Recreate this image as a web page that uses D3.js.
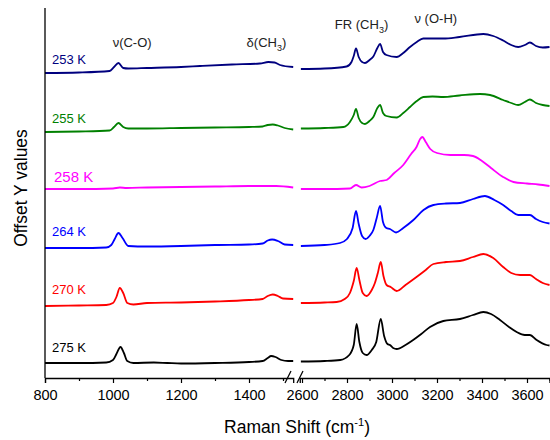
<!DOCTYPE html>
<html lang="en">

<head>
    <meta charset="UTF-8" />
    <style>
        body { margin: 0; background: #fff; }
        text { font-family: "Liberation Sans", Arial, sans-serif; }
    </style>
</head>

<body>
    <svg width="550" height="440"></svg>
    <script src="https://d3js.org/d3.v7.min.js"></script>
    <script>
        // temperatures, top to bottom
        var temps = ["253 K", "255 K", "258 K", "264 K", "270 K", "275 K"];
        var colors = ["#00007f", "#008000", "#ff00ff", "#0000ff", "#ff0000", "#000000"];

        // spectra, [Raman shift (cm-1), offset intensity]
        var s253 = [[800,30.5],[900,30.55],[990,30.7],[1003,31.1],[1016,31.5],[1030,31.0],[1045,30.95],[1100,31.0],[1200,31.1],[1256,31.2],[1350,31.35],[1432,31.45],[1457,31.6],[1475,31.55],[1491,31.3],[1530,31.1],
            [2595,30.9],[2700,30.95],[2798,31.15],[2820,31.6],[2830,32.2],[2840,32.95],[2852,32.1],[2867,31.6],[2880,31.5],[2900,31.8],[2917,32.15],[2935,33.0],[2947,33.4],[2960,32.6],[2975,32.3],[3021,32.1],[3050,32.5],[3080,33.1],[3110,33.6],[3139,33.95],[3228,33.95],[3300,34.1],[3406,34.4],[3450,34.2],[3494,33.75],[3530,33.3],[3561,33.1],[3590,33.3],[3613,33.55],[3640,33.2],[3670,33.05],[3700,33.1]];
        var s255 = [[800,24.6],[900,24.65],[990,24.75],[1003,25.1],[1016,25.5],[1030,25.1],[1045,24.95],[1100,24.95],[1200,25.0],[1300,25.05],[1400,25.1],[1440,25.15],[1455,25.3],[1470,25.35],[1485,25.25],[1505,25.0],[1530,24.85],
            [2595,24.95],[2700,25.0],[2784,25.1],[2813,25.6],[2830,26.3],[2840,26.9],[2852,26.0],[2867,25.5],[2880,25.4],[2900,25.7],[2917,26.1],[2935,27.0],[2947,27.3],[2960,26.5],[2975,26.2],[3021,26.05],[3050,26.5],[3080,27.1],[3110,27.7],[3139,28.1],[3180,28.15],[3228,28.1],[3300,28.25],[3391,28.4],[3436,28.3],[3494,27.8],[3530,27.5],[3561,27.3],[3590,27.6],[3613,27.85],[3640,27.5],[3670,27.3],[3700,27.2]];
        var s258 = [[800,18.9],[900,18.9],[1000,18.95],[1020,19.05],[1040,19.0],[1100,19.05],[1200,19.1],[1300,19.15],[1400,19.2],[1480,19.2],[1530,19.05],
            [2595,18.9],[2700,18.9],[2813,18.95],[2840,19.3],[2865,19.05],[2900,19.2],[2947,19.7],[2976,19.8],[3010,20.5],[3050,21.3],[3085,22.4],[3109,23.1],[3125,23.9],[3135,24.1],[3150,23.6],[3170,22.9],[3200,22.5],[3260,22.3],[3320,22.3],[3360,22.2],[3400,21.7],[3440,21.0],[3494,20.1],[3540,19.6],[3600,19.45],[3650,19.35],[3700,19.2]];
        var s264 = [[800,13.0],[900,13.0],[980,13.05],[995,13.3],[1005,13.9],[1016,14.5],[1028,14.0],[1045,13.2],[1100,13.15],[1200,13.2],[1300,13.3],[1400,13.35],[1440,13.45],[1455,13.75],[1468,13.85],[1485,13.7],[1505,13.35],[1530,13.3],
            [2595,13.2],[2700,13.3],[2769,13.5],[2800,13.9],[2825,15.0],[2840,16.7],[2852,15.4],[2867,14.2],[2883,13.9],[2900,14.2],[2917,14.8],[2932,16.0],[2947,17.2],[2960,15.6],[2975,15.0],[2991,14.9],[3018,14.55],[3050,15.0],[3095,15.8],[3140,16.8],[3184,17.3],[3240,17.45],[3302,17.5],[3360,17.9],[3413,18.2],[3455,17.8],[3494,17.3],[3530,16.7],[3561,16.3],[3613,16.3],[3640,15.9],[3670,15.6],[3700,15.45]];
        var s270 = [[800,7.2],[900,7.25],[980,7.3],[1000,7.5],[1010,8.1],[1020,9.0],[1030,8.5],[1042,7.5],[1060,7.35],[1100,7.5],[1200,7.55],[1300,7.65],[1400,7.8],[1440,7.9],[1455,8.2],[1470,8.35],[1485,8.2],[1500,7.95],[1530,7.9],
            [2595,7.5],[2700,7.55],[2754,7.6],[2790,7.9],[2813,8.5],[2830,9.7],[2843,11.0],[2855,9.8],[2870,8.5],[2887,8.2],[2910,8.8],[2924,9.5],[2937,10.5],[2950,11.6],[2962,10.2],[2976,9.3],[2994,9.1],[3021,8.7],[3060,9.3],[3109,10.1],[3150,10.8],[3184,11.4],[3240,11.6],[3302,11.7],[3360,12.1],[3406,12.4],[3450,12.0],[3494,11.1],[3530,10.5],[3569,10.3],[3613,10.3],[3640,9.9],[3670,9.5],[3700,9.3]];
        var s275 = [[800,1.5],[900,1.5],[980,1.55],[1000,1.8],[1010,2.4],[1022,3.1],[1032,2.5],[1042,1.7],[1060,1.5],[1120,1.55],[1160,1.5],[1200,1.45],[1300,1.5],[1400,1.6],[1440,1.7],[1455,2.0],[1465,2.2],[1478,2.1],[1495,1.8],[1515,1.7],[1530,1.7],
            [2595,1.65],[2700,1.7],[2770,1.8],[2810,2.3],[2830,3.3],[2843,5.4],[2855,3.6],[2870,2.5],[2887,2.3],[2910,2.8],[2930,3.6],[2950,5.9],[2965,4.2],[2980,3.4],[2991,3.3],[3005,3.0],[3021,2.9],[3060,3.3],[3094,3.8],[3130,4.4],[3169,5.1],[3228,5.7],[3302,5.9],[3360,6.3],[3406,6.6],[3440,6.4],[3480,5.8],[3520,5.1],[3554,4.6],[3590,4.3],[3613,4.3],[3643,3.8],[3687,3.3],[3700,3.25]];
        var spectra = [s253, s255, s258, s264, s270, s275];

        var leftTicks = [800, 900, 1000, 1100, 1200, 1300, 1400, 1500];
        var rightTicks = [2600, 2700, 2800, 2900, 3000, 3100, 3200, 3300, 3400, 3500, 3600, 3700];

        var svg = d3.select("svg");
        var axisY = 378;

        var xL = d3.scaleLinear().domain([800, 1530]).range([45, 293.2]);
        var xR = d3.scaleLinear().domain([2590, 3700]).range([299.75, 549.5]);
        var y = d3.scaleLinear().domain([0, 37]).range([axisY, 8]);

        var lineL = d3.line().x(d => xL(d[0])).y(d => y(d[1])).curve(d3.curveMonotoneX);
        var lineR = d3.line().x(d => xR(d[0])).y(d => y(d[1])).curve(d3.curveMonotoneX);

        var g = svg.append("g");
        spectra.forEach(function (s, i) {
            g.append("path").attr("d", lineL(s.filter(d => d[0] < 2000)))
                .attr("fill", "none").attr("stroke", colors[i]).attr("stroke-width", 1.8);
            g.append("path").attr("d", lineR(s.filter(d => d[0] > 2000)))
                .attr("fill", "none").attr("stroke", colors[i]).attr("stroke-width", 1.8);
        });

        // x axes, broken
        function fmt(d) { return d % 200 === 0 ? d : ""; }
        var axL = svg.append("g").attr("transform", "translate(0," + axisY + ")")
            .call(d3.axisBottom(xL).tickValues(leftTicks).tickFormat(fmt).tickSizeOuter(0).tickSize(5));
        var axR = svg.append("g").attr("transform", "translate(0," + axisY + ")")
            .call(d3.axisBottom(xR).tickValues(rightTicks).tickFormat(fmt).tickSizeOuter(0).tickSize(5));
        [axL, axR].forEach(function (ax) {
            ax.select(".domain").attr("stroke", "#000").attr("stroke-width", 1.3);
            ax.selectAll(".tick line").attr("stroke", "#000").attr("stroke-width", 1.2)
                .attr("y2", d => d % 200 === 0 ? 5 : 3);
            ax.selectAll(".tick text").attr("font-size", 14.5).attr("fill", "#000")
                .attr("font-family", "Liberation Sans, Arial, sans-serif").attr("dy", "0.95em");
        });
        // break marks
        [288, 300].forEach(function (bx) {
            svg.append("line").attr("x1", bx - 3).attr("y1", axisY + 5).attr("x2", bx + 3).attr("y2", axisY - 7)
                .attr("stroke", "#000").attr("stroke-width", 1.2);
        });

        // y axis line
        svg.append("line").attr("x1", 45).attr("x2", 45).attr("y1", y(37)).attr("y2", axisY)
            .attr("stroke", "#000").attr("stroke-width", 1.3);

        // temperature labels
        var labelDy = [-9, -9, -7, -12, -12, -11];
        temps.forEach(function (t, i) {
            svg.append("text").attr("x", i === 2 ? 54 : 52).attr("y", y(spectra[i][0][1]) + labelDy[i])
                .attr("font-size", i === 2 ? 15 : 13).attr("fill", colors[i]).text(t);
        });

        // band assignments
        function band(x, yy, parts) {
            var t = svg.append("text").attr("x", x).attr("y", yy).attr("font-size", 13).attr("fill", "#222");
            parts.forEach(function (p) {
                t.append("tspan").attr("font-size", p[1] ? 9 : 13).attr("dy", p[1] ? 4 : (p[2] ? -4 : 0)).text(p[0]);
            });
        }
        band(xL(999), 46.5, [["\u03bd(C-O)"]]);
        band(xL(1393), 46.5, [["\u03b4(CH"], ["3", 1], [")", 0, 1]]);
        band(xR(2746), 29, [["FR (CH"], ["3", 1], [")", 0, 1]]);
        band(xR(3100), 23, [["\u03bd (O-H)"]]);

        // axis titles
        var xt = svg.append("text").attr("x", 297).attr("y", 433).attr("text-anchor", "middle")
            .attr("font-size", 17.5).attr("fill", "#000");
        xt.append("tspan").text("Raman Shift (cm");
        xt.append("tspan").attr("font-size", 11).attr("dy", -7).text("-1");
        xt.append("tspan").attr("dy", 7).text(")");

        svg.append("text").attr("transform", "translate(27,188) rotate(-90)").attr("text-anchor", "middle")
            .attr("font-size", 17.5).attr("fill", "#000").text("Offset Y values");
    </script>
</body>

</html>
